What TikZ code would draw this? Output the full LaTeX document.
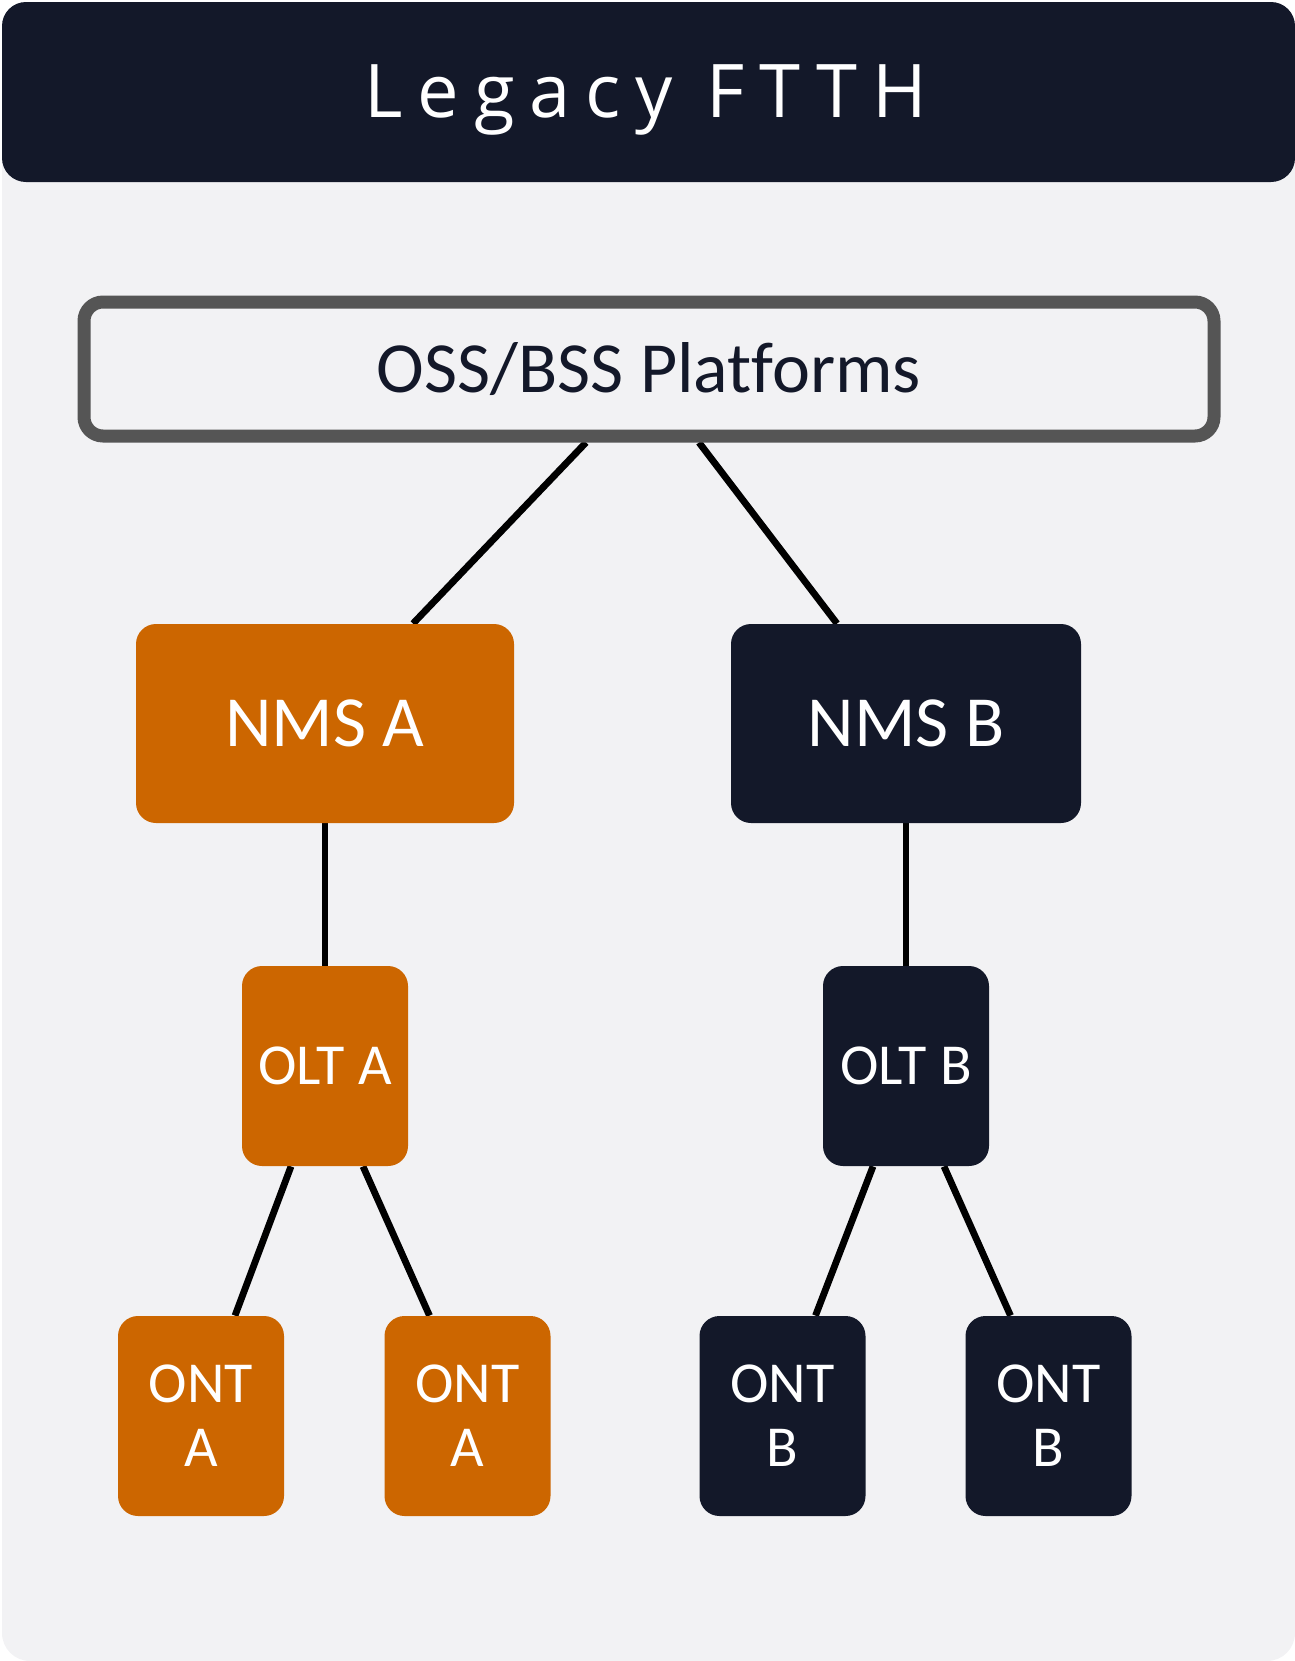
\documentclass[tikz,border=0pt]{standalone}
\usepackage{fontspec}
\setmainfont[Ligatures=NoCommon]{Carlito}
\newfontfamily\titlefont[LetterSpace=20]{Open Sans}
\usetikzlibrary{backgrounds}
\definecolor{navy}{HTML}{131829}
\definecolor{rust}{HTML}{CC6600}
\definecolor{panel}{HTML}{F2F2F4}
\definecolor{frame}{HTML}{555555}
\begin{document}
\begin{tikzpicture}[x=0.5pt,y=-0.5pt,
    box/.style={rectangle,rounded corners=10pt,text=white,inner sep=0pt},
    nmsbox/.style={box,minimum height=99.5pt,font=\fontsize{36}{40}\selectfont},
    oltbox/.style={box,minimum width=83pt,minimum height=100pt,font=\fontsize{29}{32}\selectfont},
    ontbox/.style={oltbox,align=center},
    link/.style={line width=3.4pt,black}]
  \useasboundingbox (0,0) rectangle (1295,1661);
  \node (title) [anchor=base,text=white,font=\titlefont\fontsize{37}{40}\selectfont] at (646,117) {Legacy FTTH};
  \node (oss) [rectangle,draw=frame,line width=6.5pt,rounded corners=9.5pt,minimum width=565pt,minimum height=67pt,
    text=navy,font=\fontsize{36}{40}\selectfont] at (649,369) {OSS/BSS Platforms};
  \node (nmsa) [nmsbox,fill=rust,minimum width=189pt] at (325,723.5) {NMS A};
  \node (nmsb) [nmsbox,fill=navy,minimum width=175pt] at (906,723.5) {NMS B};
  \node (olta) [oltbox,fill=rust] at (325,1066) {OLT A};
  \node (oltb) [oltbox,fill=navy] at (906,1066) {OLT B};
  \node (onta1) [ontbox,fill=rust] at (201,1416) {ONT\\A};
  \node (onta2) [ontbox,fill=rust] at (467.5,1416) {ONT\\A};
  \node (ontb1) [ontbox,fill=navy] at (782.5,1416) {ONT\\B};
  \node (ontb2) [ontbox,fill=navy] at (1048.5,1416) {ONT\\B};
  \begin{scope}[on background layer]
    \fill[panel,rounded corners=14pt] (2,2) rectangle (1295,1661);
    \fill[navy,rounded corners=12pt] (2,2) rectangle (1295,182);
    \draw[link] ([xshift=-31.5pt]oss.south) -- ([xshift=44pt]nmsa.north);
    \draw[link] ([xshift=25pt]oss.south) -- ([xshift=-34.5pt]nmsb.north);
    \draw[link] (nmsa) -- (olta);
    \draw[link] (nmsb) -- (oltb);
    \draw[link] ([xshift=-17pt]olta.south) -- ([xshift=17pt]onta1.north);
    \draw[link] ([xshift=19pt]olta.south) -- ([xshift=-19pt]onta2.north);
    \draw[link] ([xshift=-16.5pt]oltb.south) -- ([xshift=16.5pt]ontb1.north);
    \draw[link] ([xshift=19pt]oltb.south) -- ([xshift=-19pt]ontb2.north);
  \end{scope}
\end{tikzpicture}
\end{document}
